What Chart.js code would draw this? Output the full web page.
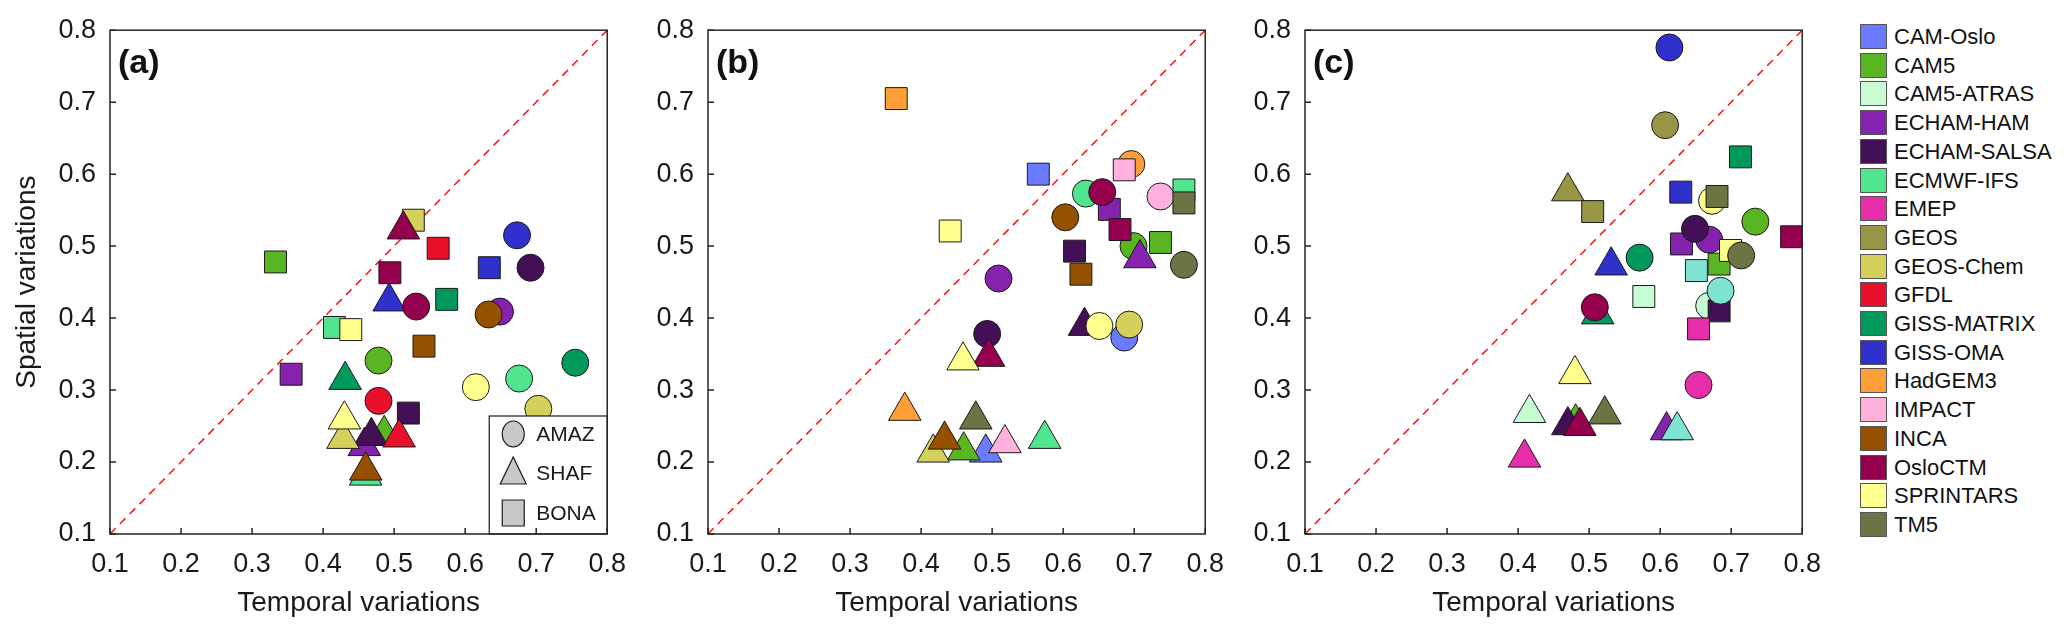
<!DOCTYPE html>
<html>
<head>
<meta charset="utf-8">
<script src="https://cdn.jsdelivr.net/npm/chart.js@4.4.1/dist/chart.umd.min.js"></script>
<style>
  html, body { margin: 0; padding: 0; background: #fff; }
  #wrap { position: relative; width: 2067px; height: 636px; overflow: hidden; }
  .panel { position: absolute; top: 0; width: 640px; height: 636px; }
  #legend { position: absolute; left: 1860px; top: 0; font-family: Arial, "Liberation Sans", sans-serif; font-size: 22px; color: #111; }
  .row { position: absolute; left: 0; height: 26px; white-space: nowrap; }
  .sw { position: absolute; left: 0; top: 0; width: 27px; height: 25px; border: 1px solid #555; box-sizing: border-box; }
  .lb { position: absolute; left: 34px; top: 0; line-height: 26px; }
</style>
</head>
<body>
<div id="wrap">
  <div class="panel" style="left:0px"><canvas id="pa"></canvas></div>
  <div class="panel" style="left:598px"><canvas id="pb"></canvas></div>
  <div class="panel" style="left:1195px"><canvas id="pc"></canvas></div>
  <div id="legend"></div>
</div>
<script>
// model names and colours (last one is a model shown in (c) but not in the legend)
const models = ["CAM-Oslo", "CAM5", "CAM5-ATRAS", "ECHAM-HAM", "ECHAM-SALSA", "ECMWF-IFS",
  "EMEP", "GEOS", "GEOS-Chem", "GFDL", "GISS-MATRIX", "GISS-OMA", "HadGEM3", "IMPACT",
  "INCA", "OsloCTM", "SPRINTARS", "TM5", ""];
const colors = ["#6b7bff", "#5ab523", "#c7fcd5", "#8523ae", "#431056", "#50e58e",
  "#e62eaa", "#989644", "#d3d05b", "#e8102a", "#00995b", "#3030cc", "#ff9f3a", "#ffb1dd",
  "#955000", "#94004d", "#ffff8d", "#6b7543", "#7fe3d2"];

const regions = ["AMAZ", "SHAF", "BONA"];
const tickValues = [0.1, 0.2, 0.3, 0.4, 0.5, 0.6, 0.7, 0.8];

// [temporal, spatial] per model, null = not plotted
// panel (a)
const aAmaz = [null, [0.478, 0.341], null, [0.649, 0.409], [0.692, 0.470], [0.676, 0.316],
  null, null, [0.703, 0.274], [0.478, 0.285], [0.755, 0.338], [0.673, 0.515], null, null,
  [0.633, 0.405], [0.531, 0.416], [0.615, 0.304], null, null];
const aShaf = [null, [0.486, 0.239], null, [0.458, 0.222], [0.468, 0.236], [0.460, 0.181],
  null, null, [0.428, 0.232], [0.507, 0.234], [0.431, 0.314], [0.493, 0.423], null, null,
  [0.460, 0.188], [0.513, 0.523], [0.430, 0.259], null, null];
const aBona = [null, [0.333, 0.478], null, [0.355, 0.322], [0.520, 0.268], [0.416, 0.387],
  null, null, [0.527, 0.536], [0.562, 0.497], [0.574, 0.426], [0.634, 0.470], null, null,
  [0.542, 0.361], [0.494, 0.463], [0.439, 0.384], null, null];

// panel (b)
const bAmaz = [[0.686, 0.373], [0.699, 0.500], null, [0.509, 0.455], [0.493, 0.378], [0.632, 0.573],
  null, null, [0.693, 0.391], null, null, null, [0.696, 0.614], [0.737, 0.569],
  [0.603, 0.540], [0.655, 0.575], [0.651, 0.389], [0.770, 0.474], null];
const bShaf = [[0.491, 0.213], [0.460, 0.216], null, [0.708, 0.483], [0.630, 0.389], [0.574, 0.232],
  null, null, [0.417, 0.213], null, null, null, [0.377, 0.271], [0.518, 0.226],
  [0.433, 0.231], [0.495, 0.346], [0.459, 0.341], [0.477, 0.259], null];
const bBona = [[0.565, 0.600], [0.737, 0.505], null, [0.665, 0.551], [0.616, 0.493], [0.770, 0.578],
  null, null, null, null, null, null, [0.365, 0.705], [0.686, 0.606],
  [0.625, 0.461], [0.680, 0.523], [0.441, 0.521], [0.770, 0.560], null];

// panel (c)
const cAmaz = [null, [0.734, 0.534], [0.669, 0.417], [0.669, 0.509], [0.649, 0.524], null,
  [0.654, 0.307], [0.607, 0.668], null, null, [0.571, 0.484], [0.613, 0.776], null, null,
  null, [0.508, 0.415], [0.673, 0.563], [0.714, 0.487], [0.685, 0.438]];
const cShaf = [null, [0.481, 0.255], [0.416, 0.268], [0.609, 0.244], [0.470, 0.251], null,
  [0.409, 0.206], [0.470, 0.576], null, null, [0.512, 0.405], [0.531, 0.473], null, null,
  null, [0.487, 0.250], [0.480, 0.322], [0.522, 0.266], [0.624, 0.244]];
const cBona = [null, [0.683, 0.475], [0.577, 0.430], [0.630, 0.503], [0.683, 0.410], null,
  [0.654, 0.385], [0.505, 0.548], null, null, [0.713, 0.624], [0.629, 0.575], null, null,
  null, [0.785, 0.513], [0.699, 0.494], [0.680, 0.569], [0.651, 0.466]];

const FONT = "Arial, 'Liberation Sans', sans-serif";
const INK = "#1a1a1a";
const shapes = [
  { style: "circle", radius: 13.5 },
  { style: "triangle", radius: 18.8 },
  { style: "rect", radius: 15.5 }
];

function buildDatasets(series) {
  const sets = [];
  models.forEach((name, i) => {
    series.forEach((list, k) => {
      const p = list[i];
      if (!p) return;
      sets.push({
        label: name + " " + regions[k],
        data: [{ x: p[0], y: p[1] }],
        pointStyle: shapes[k].style,
        pointRadius: shapes[k].radius,
        pointHoverRadius: shapes[k].radius,
        backgroundColor: colors[i],
        borderColor: INK,
        borderWidth: 1,
        order: -(i * 3 + k)
      });
    });
  });
  // 1:1 line under everything
  sets.push({
    type: "line",
    data: [{ x: 0.1, y: 0.1 }, { x: 0.8, y: 0.8 }],
    borderColor: "#ff1010",
    borderWidth: 1.5,
    borderDash: [8, 6],
    pointRadius: 0,
    order: 1000
  });
  return sets;
}

const framePlugin = {
  id: "frame",
  afterDatasetsDraw(chart, args, opts) {
    const { ctx, chartArea: a, scales } = chart;
    ctx.save();
    // inner region legend (panel a only)
    if (opts.regionBox) {
      const w = 118, h = 118;
      const bx = a.right - w, by = a.bottom - h;
      ctx.fillStyle = "#fff";
      ctx.fillRect(bx, by, w, h);
      ctx.strokeStyle = INK;
      ctx.lineWidth = 1.2;
      ctx.strokeRect(bx, by, w, h);
      const rows = [by + 18, by + 57, by + 97];
      ctx.font = "21px " + FONT;
      ctx.textBaseline = "middle";
      regions.forEach((r, k) => {
        const cx = bx + 24, cy = rows[k];
        ctx.fillStyle = "#c8c8c8";
        ctx.strokeStyle = INK;
        ctx.lineWidth = 1.2;
        ctx.beginPath();
        if (k === 0) ctx.ellipse(cx, cy, 11, 13, 0, 0, Math.PI * 2);
        else if (k === 1) { ctx.moveTo(cx, cy - 16); ctx.lineTo(cx + 13, cy + 11); ctx.lineTo(cx - 13, cy + 11); ctx.closePath(); }
        else ctx.rect(cx - 11, cy - 13, 22, 26);
        ctx.fill();
        ctx.stroke();
        ctx.fillStyle = INK;
        ctx.fillText(r, bx + 47, cy + 1);
      });
    }
    // box and inward ticks
    ctx.strokeStyle = "#262626";
    ctx.lineWidth = 1.5;
    ctx.strokeRect(a.left, a.top, a.right - a.left, a.bottom - a.top);
    ctx.beginPath();
    tickValues.forEach(v => {
      const px = scales.x.getPixelForValue(v);
      const py = scales.y.getPixelForValue(v);
      ctx.moveTo(px, a.bottom); ctx.lineTo(px, a.bottom - 6);
      ctx.moveTo(a.left, py); ctx.lineTo(a.left + 6, py);
    });
    ctx.stroke();
    // panel tag
    ctx.fillStyle = "#111";
    ctx.font = "bold 34px " + FONT;
    ctx.textBaseline = "middle";
    ctx.textAlign = "left";
    ctx.fillText(opts.tag, a.left + 8, a.top + 33);
    ctx.restore();
  }
};

function axis(titleText, isX, showTitle) {
  return {
    type: "linear",
    min: 0.1,
    max: 0.8,
    grid: { display: false, drawTicks: false },
    border: { display: false },
    ticks: {
      stepSize: 0.1,
      padding: isX ? 14 : 14,
      color: INK,
      font: { family: FONT, size: 27 },
      callback: v => Number(v).toFixed(1)
    },
    title: {
      display: showTitle,
      text: titleText,
      color: INK,
      font: { family: FONT, size: 28 },
      padding: isX ? { top: 0, bottom: 16 } : { top: 10, bottom: 0 }
    },
    afterFit: s => { if (isX) s.height = 102; else s.width = 110; }
  };
}

function makePanel(id, tag, series, withYTitle, regionBox) {
  new Chart(document.getElementById(id), {
    type: "scatter",
    data: { datasets: buildDatasets(series) },
    options: {
      responsive: false,
      animation: false,
      events: [],
      layout: { padding: { top: 27, right: 14, bottom: 0, left: 0 } },
      plugins: {
        legend: { display: false },
        tooltip: { enabled: false },
        frame: { tag: tag, regionBox: regionBox }
      },
      scales: {
        x: axis("Temporal variations", true, true),
        y: axis("Spatial variations", false, withYTitle)
      }
    },
    plugins: [framePlugin]
  });
}

["pa", "pb", "pc"].forEach(id => {
  const c = document.getElementById(id);
  c.width = 640; c.height = 636;
  c.style.width = "640px"; c.style.height = "636px";
});

makePanel("pa", "(a)", [aAmaz, aShaf, aBona], true, true);
makePanel("pb", "(b)", [bAmaz, bShaf, bBona], false, false);
makePanel("pc", "(c)", [cAmaz, cShaf, cBona], false, false);

// model legend on the right
const legend = document.getElementById("legend");
models.forEach((name, i) => {
  if (!name) return;
  const row = document.createElement("div");
  row.className = "row";
  row.style.top = (24 + i * 28.7) + "px";
  const sw = document.createElement("div");
  sw.className = "sw";
  sw.style.background = colors[i];
  const lb = document.createElement("div");
  lb.className = "lb";
  lb.textContent = name;
  row.appendChild(sw);
  row.appendChild(lb);
  legend.appendChild(row);
});
</script>
</body>
</html>
